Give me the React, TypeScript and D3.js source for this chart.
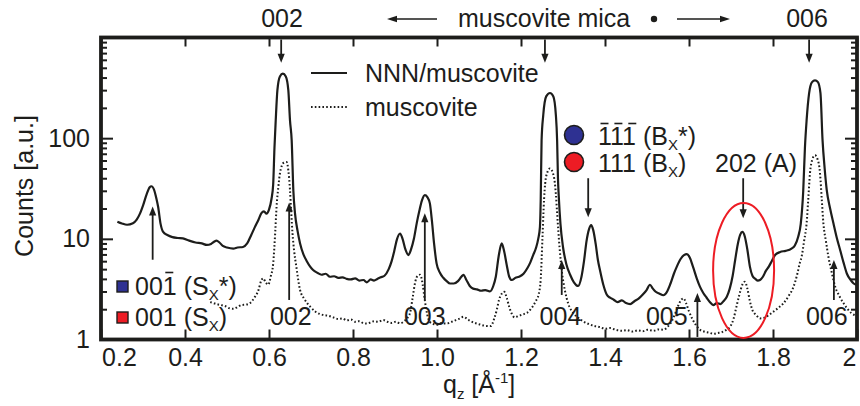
import { useEffect, useRef } from "react";
import * as d3 from "d3";

const FONT = "'Liberation Sans', Arial, Helvetica, sans-serif";
const INK = "#1d1d1b";
const W = 860;
const H = 406;

// x axis
const xTickValues = [0.2, 0.4, 0.6, 0.8, 1.0, 1.2, 1.4, 1.6, 1.8, 2.0];
const xTickLabels = ["0.2", "0.4", "0.6", "0.8", "1.0", "1.2", "1.4", "1.6", "1.8", "2"];
// y axis (log)
const yMajor = [1, 10, 100, 1000];
const yLabels = ["1", "10", "100", ""];
const yMinor = [2, 3, 4, 5, 6, 7, 8, 9, 20, 30, 40, 50, 60, 70, 80, 90, 200, 300, 400, 500, 600, 700, 800, 900];

// NNN/muscovite (solid)
const nnnQ = [
  0.239, 0.25, 0.262, 0.276, 0.285, 0.293, 0.301, 0.309, 0.316, 0.32, 0.326, 0.332, 0.336, 0.342, 0.348, 0.358, 0.37,
  0.383, 0.395, 0.41, 0.425, 0.44, 0.452, 0.462, 0.47, 0.475, 0.482, 0.49, 0.5, 0.515, 0.525, 0.538, 0.548, 0.558,
  0.566, 0.575, 0.582, 0.588, 0.594, 0.6, 0.606, 0.61, 0.613, 0.616, 0.62, 0.626, 0.633, 0.64, 0.646, 0.65, 0.654,
  0.658, 0.662, 0.668, 0.674, 0.682, 0.69, 0.698, 0.705, 0.715, 0.725, 0.735, 0.745, 0.755, 0.765, 0.775, 0.785,
  0.795, 0.805, 0.815, 0.825, 0.833, 0.842, 0.85, 0.858, 0.866, 0.875, 0.885, 0.892, 0.898, 0.905, 0.912, 0.918,
  0.925, 0.932, 0.938, 0.945, 0.952, 0.958, 0.964, 0.971, 0.977, 0.983, 0.988, 0.993, 0.999, 1.007, 1.015, 1.023,
  1.031, 1.04, 1.05, 1.058, 1.063, 1.07, 1.078, 1.086, 1.095, 1.105, 1.115, 1.126, 1.134, 1.14, 1.147, 1.154, 1.16,
  1.166, 1.172, 1.178, 1.187, 1.195, 1.206, 1.215, 1.222, 1.229, 1.236, 1.241, 1.245, 1.247, 1.249, 1.253, 1.26,
  1.269, 1.277, 1.283, 1.286, 1.288, 1.29, 1.294, 1.3, 1.308, 1.317, 1.326, 1.336, 1.344, 1.35, 1.356, 1.362, 1.367,
  1.372, 1.378, 1.383, 1.388, 1.396, 1.404, 1.412, 1.42, 1.43, 1.44, 1.45, 1.46, 1.47, 1.48, 1.49, 1.499, 1.507,
  1.514, 1.52, 1.53, 1.539, 1.548, 1.556, 1.564, 1.571, 1.58, 1.588, 1.595, 1.602, 1.61, 1.618, 1.626, 1.634, 1.642,
  1.65, 1.658, 1.666, 1.675, 1.682, 1.69, 1.697, 1.704, 1.71, 1.716, 1.722, 1.727, 1.733, 1.739, 1.745, 1.751, 1.758,
  1.764, 1.769, 1.776, 1.783, 1.79, 1.797, 1.805, 1.817, 1.83, 1.844, 1.852, 1.86, 1.866, 1.872, 1.876, 1.88, 1.886,
  1.893, 1.9, 1.907, 1.913, 1.918, 1.923, 1.928, 1.936, 1.944, 1.952, 1.96, 1.968, 1.976, 1.985, 1.992, 1.998,
];
const nnnCounts = [
  14.8, 14.2, 13.8, 14.3, 15.5, 17.9, 22, 28, 32.5, 33.3, 31, 25, 20.8, 14, 11.7, 10.9, 10.4,
  10.2, 10.1, 9.6, 9.2, 9.0, 8.7, 8.9, 9.4, 9.6, 9.2, 8.5, 8.2, 8.0, 8.2, 8.3, 9.0, 11,
  13, 15.5, 18, 18.7, 17.8, 19.5, 25, 35, 80, 150, 300, 410, 437, 410, 300, 150, 95,
  30, 17.8, 12, 9.0, 7.0, 6.0, 5.3, 4.9, 4.6, 4.4, 4.5, 4.2, 4.25, 4.1, 4.15, 4.0,
  3.95, 4.05, 3.85, 3.9, 3.7, 3.95, 3.85, 4.0, 4.15, 4.3, 5.0, 6.0, 7.5, 10, 11.3, 10,
  7.8, 6.9, 7.8, 10, 14.5, 19, 24, 27.2, 26, 22.5, 15, 9, 5.7, 4.6, 4.1, 3.8,
  3.6, 3.6, 3.8, 4.2, 4.4, 3.9, 3.4, 3.2, 3.15, 3.05, 3.1, 3.0, 3.4, 4.2, 6.8, 9.0, 7.5,
  5.5, 4.2, 3.9, 4.1, 4.2, 4.5, 5.1, 5.8, 6.9, 8.2, 10, 13, 25, 95, 170, 260,
  281, 260, 170, 95, 40, 26, 14, 8.3, 5.6, 4.4, 3.7, 3.4, 4.2, 6, 9.5, 12.5, 13.7,
  12.2, 8.8, 6.2, 4.9, 3.5, 2.8, 2.6, 2.5, 2.35, 2.45, 2.3, 2.25, 2.4, 2.55, 2.8, 3.1, 3.5,
  3.2, 3.0, 2.85, 2.75, 3.0, 3.6, 4.5, 5.3, 6.3, 6.9, 7.05, 6.5, 5.2, 4.1, 3.35, 2.9, 2.6,
  2.35, 2.2, 2.3, 2.25, 2.4, 2.66, 3.2, 4.3, 6.2, 8.8, 11, 11.7, 10.5, 7.8, 5.3, 4.3, 4.0,
  3.85, 3.9, 4.2, 4.8, 5.3, 6.0, 6.9, 7.4, 7.6, 8.0, 8.6, 10.5, 14, 30, 80, 150, 280,
  360, 375, 360, 280, 95, 50, 30.5, 20, 14.2, 10.2, 7.7, 5.8, 4.5, 3.9, 3.6, 3.5,
];

// muscovite (dotted)
const micaQ = [
  0.46, 0.468, 0.475, 0.485, 0.495, 0.505, 0.515, 0.525, 0.535, 0.545, 0.555, 0.565, 0.575, 0.581, 0.586, 0.592,
  0.598, 0.604, 0.61, 0.615, 0.618, 0.622, 0.626, 0.635, 0.642, 0.646, 0.65, 0.653, 0.656, 0.66, 0.665, 0.674, 0.685,
  0.698, 0.71, 0.72, 0.73, 0.742, 0.753, 0.765, 0.775, 0.785, 0.795, 0.805, 0.815, 0.825, 0.833, 0.842, 0.85, 0.86,
  0.872, 0.882, 0.892, 0.902, 0.912, 0.922, 0.93, 0.936, 0.942, 0.948, 0.954, 0.96, 0.966, 0.971, 0.977, 0.983,
  0.992, 1.0, 1.01, 1.023, 1.035, 1.045, 1.055, 1.063, 1.072, 1.08, 1.09, 1.1, 1.11, 1.12, 1.128, 1.136, 1.142,
  1.148, 1.154, 1.16, 1.166, 1.172, 1.178, 1.185, 1.195, 1.205, 1.215, 1.225, 1.235, 1.242, 1.247, 1.251, 1.255,
  1.26, 1.269, 1.278, 1.283, 1.286, 1.292, 1.298, 1.305, 1.312, 1.325, 1.338, 1.35, 1.362, 1.375, 1.388, 1.4,
  1.412, 1.425, 1.44, 1.452, 1.465, 1.478, 1.49, 1.502, 1.515, 1.528, 1.539, 1.55, 1.56, 1.568, 1.575, 1.582,
  1.587, 1.593, 1.6, 1.608, 1.617, 1.626, 1.636, 1.648, 1.658, 1.668, 1.678, 1.688, 1.698, 1.706, 1.713, 1.72,
  1.727, 1.733, 1.739, 1.745, 1.751, 1.76, 1.769, 1.778, 1.79, 1.801, 1.812, 1.825, 1.837, 1.849, 1.858, 1.864,
  1.868, 1.874, 1.88, 1.884, 1.888, 1.894, 1.9, 1.906, 1.912, 1.916, 1.92, 1.926, 1.932, 1.94, 1.948, 1.958,
  1.968, 1.978, 1.987, 1.998,
];
const micaCounts = [
  2.35, 2.3, 2.25, 2.2, 2.15, 2.05, 2.02, 2.1, 2.2, 2.22, 2.3, 2.6, 3.1, 3.8, 4.05, 3.7,
  3.5, 4.2, 5.7, 12, 20.8, 32, 44.6, 57, 58, 48, 30.5, 18, 11.3, 7.5, 5.3, 3.1, 2.5,
  2.12, 1.9, 1.8, 1.75, 1.72, 1.66, 1.6, 1.62, 1.55, 1.58, 1.5, 1.52, 1.45, 1.44, 1.48, 1.52, 1.5,
  1.56, 1.5, 1.46, 1.5, 1.45, 1.52, 1.65, 1.85, 2.6, 3.7, 4.3, 4.4, 3.5, 2.46, 1.75, 1.5,
  1.42, 1.4, 1.45, 1.44, 1.5, 1.56, 1.62, 1.68, 1.6, 1.52, 1.46, 1.42, 1.38, 1.36, 1.36, 1.6, 1.95,
  2.5, 2.85, 2.98, 2.6, 2.1, 1.8, 1.66, 1.72, 1.78, 1.85, 2.05, 2.4, 2.8, 4, 10, 25,
  42, 50, 42, 28, 18, 8, 4.5, 3.0, 2.3, 1.82, 1.62, 1.5, 1.42, 1.36, 1.33, 1.28,
  1.3, 1.25, 1.22, 1.24, 1.2, 1.23, 1.21, 1.25, 1.22, 1.26, 1.25, 1.35, 1.55, 1.85, 2.2, 2.5,
  2.56, 2.3, 1.9, 1.6, 1.38, 1.25, 1.2, 1.17, 1.14, 1.16, 1.18, 1.24, 1.34, 1.6, 2.12, 2.8,
  3.5, 3.75, 3.2, 2.4, 1.96, 1.75, 1.62, 1.64, 1.75, 1.89, 2.05, 2.29, 2.7, 3.35, 4.5, 5.8,
  6.6, 9.5, 14.2, 25, 44.6, 62, 67.7, 62, 44.6, 25, 14.2, 9.5, 6.6, 4.6, 3.35, 2.7,
  2.29, 2.0, 1.82, 1.72,
];

// annotation arrows: q position, start count, tip count
const topArrows = [
  { q: 0.629, from: 1000, to: 560 },
  { q: 1.257, from: 1000, to: 560 },
  { q: 1.886, from: 1000, to: 560 },
];
const downArrows = [
  { q: 1.36, from: 40, to: 16.4 },
  { q: 1.729, from: 40, to: 16 },
];
const upArrows = [
  { q: 0.323, from: 6.2, to: 21 },
  { q: 0.648, from: 2.47, to: 23 },
  { q: 0.971, from: 2.47, to: 18 },
  { q: 1.297, from: 2.77, to: 6.15 },
  { q: 1.62, from: 1.06, to: 2.9 },
  { q: 1.945, from: 2.47, to: 6.15 },
];
const substrateLabels = ["002", "003", "004", "005", "006"];
const substrateLabelQ = [0.652, 0.971, 1.294, 1.547, 1.928];

const BLUE = "#2e3192";
const RED = "#ed1c24";

function Arrow({ x1, y1, x2, y2 }: { x1: number; y1: number; x2: number; y2: number }) {
  const dir = Math.sign(y2 - y1);
  const len = 9;
  const hw = 3.6;
  return (
    <g>
      <line x1={x1} y1={y1} x2={x2} y2={y2 - dir * len * 0.6} stroke={INK} strokeWidth={1.8} />
      <path d={`M${x2},${y2} L${x2 - hw},${y2 - dir * len} L${x2 + hw},${y2 - dir * len} Z`} fill={INK} />
    </g>
  );
}

function HArrow({ x1, x2, yy }: { x1: number; x2: number; yy: number }) {
  const dir = Math.sign(x2 - x1);
  const len = 10;
  const hw = 3.2;
  return (
    <g>
      <line x1={x1} y1={yy} x2={x2 - dir * len * 0.6} y2={yy} stroke={INK} strokeWidth={1.6} />
      <path d={`M${x2},${yy} L${x2 - dir * len},${yy - hw} L${x2 - dir * len},${yy + hw} Z`} fill={INK} />
    </g>
  );
}

export default function App() {
  const axRef = useRef<SVGGElement>(null);

  const x = d3.scaleLinear().domain([0.2, 2.0]).range([101, 857]);
  const y = d3.scaleLog().domain([1, 1000]).range([339.5, 37.5]);

  useEffect(() => {
    const g = d3.select(axRef.current);
    g.selectAll("*").remove();

    g.append("g")
      .attr("transform", `translate(0,${y(1)})`)
      .call(
        d3.axisBottom(x).tickValues(xTickValues)
          .tickFormat((_d, i) => xTickLabels[i]).tickSizeInner(-10).tickSizeOuter(0).tickPadding(9)
      );
    g.append("g")
      .attr("transform", `translate(0,${y(1000)})`)
      .call(d3.axisTop(x).tickValues(xTickValues).tickFormat(() => "").tickSizeInner(-9).tickSizeOuter(0));

    g.append("g")
      .attr("transform", `translate(${x(0.2)},0)`)
      .call(d3.axisLeft(y).tickValues(yMajor).tickFormat((_d, i) => yLabels[i]).tickSizeInner(-12).tickSizeOuter(0).tickPadding(11));
    g.append("g")
      .attr("transform", `translate(${x(0.2)},0)`)
      .call(d3.axisLeft(y).tickValues(yMinor).tickFormat(() => "").tickSizeInner(-6).tickSizeOuter(0));
    g.append("g")
      .attr("transform", `translate(${x(2.0)},0)`)
      .call(d3.axisRight(y).tickValues(yMajor).tickFormat(() => "").tickSizeInner(-12).tickSizeOuter(0));
    g.append("g")
      .attr("transform", `translate(${x(2.0)},0)`)
      .call(d3.axisRight(y).tickValues(yMinor).tickFormat(() => "").tickSizeInner(-6).tickSizeOuter(0));

    g.selectAll(".domain").remove();
    g.selectAll(".tick line").attr("stroke", INK).attr("stroke-width", 2);
    g.selectAll(".tick text")
      .attr("font-size", 25)
      .attr("font-family", FONT)
      .attr("fill", INK);
    // first and last x labels are nudged off the corners
    g.selectAll<SVGTextElement, number>(".tick text")
      .filter((d) => d === 0.2 && xTickValues.includes(d))
      .attr("dx", 18);
    g.selectAll<SVGTextElement, number>(".tick text")
      .filter((d) => d === 2.0)
      .attr("dx", -8);
  }, []);

  const pathOf = (qs: number[], cs: number[]) =>
    d3
      .line<number>()
      .x((_d, i) => x(qs[i]))
      .y((d) => y(d))
      .curve(d3.curveMonotoneX)(cs) ?? "";

  const digitW = 25 * 0.556;
  const bar = (x0: number, i: number, yy: number) => (
    <line key={i} x1={x0 + i * digitW + 2.5} x2={x0 + i * digitW + 10.5} y1={yy} y2={yy} stroke={INK} strokeWidth={1.6} />
  );

  const ellCx = x(1.73);
  const ellCy = y(4.85);

  return (
    <svg
      width={W}
      height={H}
      style={{ position: "fixed", left: 0, top: 0, background: "#fff", fontFamily: FONT }}
    >
      {/* curves */}
      <path d={pathOf(micaQ, micaCounts)} fill="none" stroke={INK} strokeWidth={2} strokeDasharray="1.6 2.2" />
      <path d={pathOf(nnnQ, nnnCounts)} fill="none" stroke={INK} strokeWidth={2.2} />

      {/* frame + ticks */}
      <rect x={x(0.2)} y={y(1000)} width={x(2.0) - x(0.2)} height={y(1) - y(1000)} fill="none" stroke={INK} strokeWidth={3.8} />
      <g ref={axRef} />

      {/* axis titles */}
      <text transform={`translate(33,186) rotate(-90)`} textAnchor="middle" fontSize={25} fill={INK}>
        Counts [a.u.]
      </text>
      <text x={443} y={393} fontSize={25} fill={INK}>
        q<tspan fontSize={15} dy={6}>z</tspan>
        <tspan dy={-6}> [Å</tspan>
        <tspan fontSize={15} dy={-10}>-1</tspan>
        <tspan dy={10}>]</tspan>
      </text>

      {/* top annotations */}
      <text x={282} y={27} textAnchor="middle" fontSize={25} fill={INK}>002</text>
      <text x={807} y={27} textAnchor="middle" fontSize={25} fill={INK}>006</text>
      <text x={458} y={27} fontSize={25} fill={INK}>muscovite mica</text>
      <HArrow x1={437} x2={387} yy={19} />
      <HArrow x1={677} x2={730} yy={19} />
      <circle cx={654} cy={19} r={3.2} fill={INK} />
      {topArrows.map((a, i) => (
        <Arrow key={i} x1={x(a.q)} y1={y(a.from) + 2} x2={x(a.q)} y2={y(a.to)} />
      ))}

      {/* legend */}
      <line x1={311} x2={347} y1={73} y2={73} stroke={INK} strokeWidth={2} />
      <text x={365} y={82} fontSize={25} fill={INK}>NNN/muscovite</text>
      <line x1={311} x2={347} y1={107} y2={107} stroke={INK} strokeWidth={2} strokeDasharray="1.6 2.2" />
      <text x={365} y={116} fontSize={25} fill={INK}>muscovite</text>

      {/* blue / red circle markers */}
      <circle cx={574} cy={135} r={9.5} fill={BLUE} stroke={INK} strokeWidth={1.6} />
      <circle cx={574} cy={162} r={9.5} fill={RED} stroke={INK} strokeWidth={1.6} />
      <text x={598} y={145} fontSize={25} fill={INK}>
        111 (B<tspan fontSize={15} dy={5}>X</tspan>
        <tspan dy={-5}>*)</tspan>
      </text>
      {[0, 1, 2].map((i) => bar(598, i, 123.5))}
      <text x={598} y={172} fontSize={25} fill={INK}>
        111 (B<tspan fontSize={15} dy={5}>X</tspan>
        <tspan dy={-5}>)</tspan>
      </text>
      <text x={715} y={172} fontSize={25} fill={INK}>202 (A)</text>
      {downArrows.map((a, i) => (
        <Arrow key={i} x1={x(a.q)} y1={y(a.from)} x2={x(a.q)} y2={y(a.to)} />
      ))}

      {/* red ellipse */}
      <ellipse cx={ellCx} cy={ellCy} rx={30.5} ry={67.5} fill="none" stroke={RED} strokeWidth={2} />

      {/* substrate reflections from below */}
      {upArrows.map((a, i) => (
        <Arrow key={i} x1={x(a.q)} y1={y(a.from)} x2={x(a.q)} y2={y(a.to)} />
      ))}
      {substrateLabels.map((s, i) => (
        <text key={s} x={x(substrateLabelQ[i])} y={325} textAnchor="middle" fontSize={25} fill={INK}>
          {s}
        </text>
      ))}

      {/* square markers */}
      <rect x={117} y={281} width={11} height={11} fill={BLUE} stroke={INK} strokeWidth={1.4} />
      <rect x={117} y={312} width={11} height={11} fill={RED} stroke={INK} strokeWidth={1.4} />
      <text x={135} y={295} fontSize={25} fill={INK}>
        001 (S<tspan fontSize={15} dy={5}>X</tspan>
        <tspan dy={-5}>*)</tspan>
      </text>
      {bar(135, 2, 272.5)}
      <text x={135} y={326} fontSize={25} fill={INK}>
        001 (S<tspan fontSize={15} dy={5}>X</tspan>
        <tspan dy={-5}>)</tspan>
      </text>
    </svg>
  );
}
